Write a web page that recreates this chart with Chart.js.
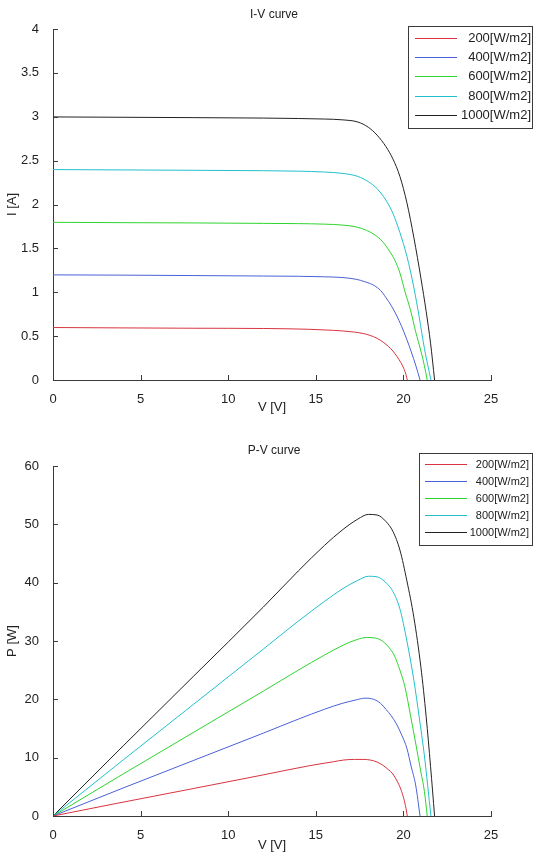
<!DOCTYPE html>
<html>
<head>
<meta charset="utf-8">
<script src="https://cdn.jsdelivr.net/npm/chart.js@4.4.1/dist/chart.umd.min.js"></script>
<style>
  html, body { margin: 0; padding: 0; background: #fff; }
  #wrap { position: relative; width: 534px; height: 858px; }
  #ivChart { position: absolute; left: 0; top: 0; }
  #pvChart { position: absolute; left: 0; top: 437px; }
</style>
</head>
<body>
<div id="wrap">
  <canvas id="ivChart" width="534" height="437"></canvas>
  <canvas id="pvChart" width="534" height="421"></canvas>
</div>
<script>
// irradiance levels and line colours
var irradianceLabels = ['200[W/m2]', '400[W/m2]', '600[W/m2]', '800[W/m2]', '1000[W/m2]'];
var lineColors = ['#d8343f', '#4a60d8', '#2ed42e', '#22c0cc', '#222222'];

// 200 W/m2
var v200 = [0, 3.7, 8, 12, 14.6, 16, 16.6, 17.2, 17.7, 18.1, 18.5, 18.85, 19.16, 19.4, 19.64, 19.85, 20.02, 20.15, 20.22];
var i200 = [0.598, 0.594, 0.590, 0.587, 0.578, 0.566, 0.558, 0.546, 0.530, 0.508, 0.475, 0.430, 0.380, 0.330, 0.266, 0.200, 0.133, 0.060, 0];
var p200 = [0, 2.2, 4.7, 7.05, 8.6, 9.3, 9.6, 9.7, 9.7, 9.6, 9.25, 8.65, 7.9, 7.2, 6.0, 4.6, 3.0, 1.3, 0];

// 400 W/m2
var v400 = [0, 4, 8, 12, 14, 15.5, 16.5, 17.3, 17.8, 18.3, 18.7, 19.0, 19.3, 19.6, 19.9, 20.2, 20.45, 20.7, 20.95];
var i400 = [1.198, 1.195, 1.19, 1.185, 1.182, 1.176, 1.168, 1.148, 1.12, 1.08, 1.02, 0.94, 0.85, 0.74, 0.61, 0.46, 0.32, 0.17, 0];
var p400 = [0, 4.8, 9.5, 14.2, 16.6, 18.3, 19.3, 19.9, 20.2, 20.0, 19.3, 18.3, 17.2, 15.8, 13.9, 11.6, 8.4, 5.3, 0];

// 600 W/m2
var v600 = [0, 4, 8, 12, 14, 15.5, 16.5, 17.3, 17.9, 18.4, 18.8, 19.2, 19.5, 19.8, 20.1, 20.4, 20.7, 21.0, 21.2, 21.36];
var i600 = [1.797, 1.793, 1.79, 1.785, 1.782, 1.776, 1.766, 1.745, 1.705, 1.65, 1.58, 1.47, 1.37, 1.22, 1.0, 0.8, 0.55, 0.33, 0.16, 0];
var p600 = [0, 7.2, 14.3, 21.4, 25.0, 27.6, 29.2, 30.2, 30.6, 30.5, 30.0, 28.8, 27.4, 25.0, 22.0, 17.3, 12.5, 7.5, 4.2, 0];

// 800 W/m2
var v800 = [0, 4, 8, 12, 14, 15.5, 16.5, 17.4, 18.0, 18.5, 19.0, 19.4, 19.8, 20.2, 20.6, 20.9, 21.2, 21.57];
var i800 = [2.398, 2.394, 2.39, 2.385, 2.38, 2.37, 2.355, 2.32, 2.26, 2.18, 2.05, 1.9, 1.68, 1.41, 1.05, 0.72, 0.36, 0];
var p800 = [0, 9.6, 19.1, 28.6, 33.4, 36.8, 38.9, 40.4, 41.1, 41.0, 40.0, 38.5, 35.5, 30.0, 23.2, 17.0, 10.3, 0];

// 1000 W/m2
var v1000 = [0, 4, 8, 12, 14, 15.5, 16.5, 17.4, 18.0, 18.5, 19.0, 19.4, 19.8, 20.2, 20.6, 21.0, 21.3, 21.55, 21.78];
var i1000 = [2.998, 2.994, 2.99, 2.985, 2.98, 2.974, 2.965, 2.94, 2.88, 2.79, 2.66, 2.52, 2.32, 2.02, 1.62, 1.16, 0.78, 0.42, 0];
var p1000 = [0, 12.0, 23.9, 35.8, 42.0, 46.4, 49.0, 50.9, 51.7, 51.6, 50.5, 48.8, 45.6, 40.3, 34.0, 25.5, 17.0, 8.5, 0];

// axis ticks
var voltageTicks = [0, 5, 10, 15, 20, 25];
var currentTicks = [0, 0.5, 1, 1.5, 2, 2.5, 3, 3.5, 4];
var powerTicks = [0, 10, 20, 30, 40, 50, 60];

var voltages = [v200, v400, v600, v800, v1000];
var currents = [i200, i400, i600, i800, i1000];
var powers = [p200, p400, p600, p800, p1000];

var FONT = "'Liberation Sans', Arial, Helvetica, sans-serif";
var AXIS = '#3a3a3a';

function toPoints(xs, ys) {
    return xs.map(function(x, k) { return {x: x, y: ys[k]}; });
}

// matlab style ticks pointing into the plot
var inwardTicks = {
    id: 'inwardTicks',
    afterDraw: function(chart) {
        var ctx = chart.ctx, area = chart.chartArea;
        ctx.save();
        ctx.strokeStyle = AXIS;
        ctx.lineWidth = 1;
        ctx.beginPath();
        chart.scales.x.ticks.forEach(function(t) {
            var px = Math.round(chart.scales.x.getPixelForValue(t.value)) + 0.5;
            ctx.moveTo(px, area.bottom);
            ctx.lineTo(px, area.bottom - 5);
        });
        chart.scales.y.ticks.forEach(function(t) {
            var py = Math.round(chart.scales.y.getPixelForValue(t.value)) + 0.5;
            ctx.moveTo(area.left, py);
            ctx.lineTo(area.left + 5, py);
        });
        ctx.stroke();
        ctx.restore();
    }
};

// title text above the plot
var plotTitle = {
    id: 'plotTitle',
    afterDraw: function(chart, args, opts) {
        var ctx = chart.ctx;
        ctx.save();
        ctx.fillStyle = '#222';
        ctx.font = '12px ' + FONT;
        ctx.textAlign = 'center';
        ctx.textBaseline = 'middle';
        ctx.fillText(opts.text, opts.x, opts.y);
        ctx.restore();
    }
};

// boxed legend in the upper right corner
var boxLegend = {
    id: 'boxLegend',
    afterDraw: function(chart, args, o) {
        var ctx = chart.ctx;
        ctx.save();
        ctx.fillStyle = '#fff';
        ctx.fillRect(o.left, o.top, o.width, o.height);
        ctx.strokeStyle = AXIS;
        ctx.lineWidth = 1;
        ctx.strokeRect(o.left + 0.5, o.top + 0.5, o.width, o.height);
        ctx.font = o.fontSize + 'px ' + FONT;
        ctx.textAlign = 'right';
        ctx.textBaseline = 'middle';
        chart.data.datasets.forEach(function(ds, k) {
            var y = o.firstRow + k * o.rowStep;
            ctx.strokeStyle = ds.borderColor;
            ctx.beginPath();
            ctx.moveTo(o.lineFrom, Math.round(y) + 0.5);
            ctx.lineTo(o.lineTo, Math.round(y) + 0.5);
            ctx.stroke();
            ctx.fillStyle = '#222';
            ctx.fillText(ds.label, o.textRight, y + 0.5);
        });
        ctx.restore();
    }
};

function makeChart(id, yValues, yTicks, yMax, yTitle, title, xHeight, xTitlePad, legend) {
    var datasets = irradianceLabels.map(function(label, k) {
        return {
            label: label,
            data: toPoints(voltages[k], yValues[k]),
            borderColor: lineColors[k],
            borderWidth: 1,
            pointRadius: 0,
            fill: false,
            cubicInterpolationMode: 'monotone'
        };
    });
    return new Chart(document.getElementById(id), {
        type: 'line',
        data: { datasets: datasets },
        options: {
            responsive: false,
            animation: false,
            events: [],
            layout: { padding: { top: 29, right: 43, left: 0, bottom: 0 } },
            plugins: {
                legend: { display: false },
                tooltip: { enabled: false },
                plotTitle: title,
                boxLegend: legend
            },
            scales: {
                x: {
                    type: 'linear',
                    min: 0,
                    max: 25,
                    afterBuildTicks: function(s) { s.ticks = voltageTicks.map(function(v) { return {value: v}; }); },
                    afterFit: function(s) { s.height = xHeight; s.paddingLeft = 0; s.paddingRight = 0; },
                    grid: { display: false },
                    border: { color: AXIS, width: 1 },
                    ticks: { color: '#222', padding: 4, font: { family: FONT, size: 13 }, maxRotation: 0,
                             callback: function(v) { return String(v); } },
                    title: { display: true, text: 'V [V]', color: '#222', font: { family: FONT, size: 13 },
                             padding: { top: 0, bottom: xTitlePad } }
                },
                y: {
                    type: 'linear',
                    min: 0,
                    max: yMax,
                    afterBuildTicks: function(s) { s.ticks = yTicks.map(function(v) { return {value: v}; }); },
                    afterFit: function(s) { s.width = 53; s.paddingTop = 0; s.paddingBottom = 0; },
                    grid: { display: false },
                    border: { color: AXIS, width: 1 },
                    ticks: { color: '#222', padding: 6, font: { family: FONT, size: 13 },
                             callback: function(v) { return String(v); } },
                    title: { display: true, text: yTitle, color: '#222', font: { family: FONT, size: 13 },
                             padding: { top: 5, bottom: 0 } }
                }
            }
        },
        plugins: [inwardTicks, plotTitle, boxLegend]
    });
}

makeChart('ivChart', currents, currentTicks, 4, 'I [A]',
    { text: 'I-V curve', x: 274, y: 15 }, 57, 22,
    { left: 408, top: 26, width: 124, height: 102, firstRow: 38, rowStep: 19.2,
      lineFrom: 415, lineTo: 457, textRight: 531, fontSize: 13 });

makeChart('pvChart', powers, powerTicks, 60, 'P [W]',
    { text: 'P-V curve', x: 274, y: 14 }, 42, 5,
    { left: 419, top: 16, width: 113, height: 92, firstRow: 27, rowStep: 17,
      lineFrom: 425, lineTo: 467, textRight: 529, fontSize: 11 });
</script>
</body>
</html>
